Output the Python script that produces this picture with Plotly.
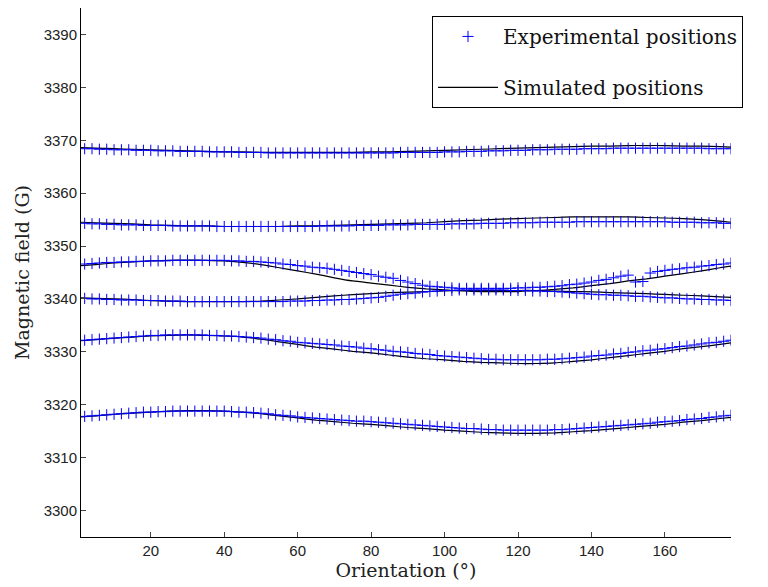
import plotly.graph_objects as go

# Experimental orientations (degrees)
x_exp = list(range(2, 179, 2))
# Simulated orientations (degrees)
x_sim = [1, 5, 10, 15, 20, 25, 30, 35, 40, 45, 50, 55, 60, 65, 70, 75, 80, 85, 90,
         95, 100, 105, 110, 115, 120, 125, 130, 135, 140, 145, 150, 155, 160, 165,
         170, 175, 178]

exp_a = [3368.4, 3368.4, 3368.3, 3368.3, 3368.2, 3368.2, 3368.2, 3368.1, 3368.1, 3368.1,
         3368.0, 3368.0, 3368.0, 3367.9, 3367.9, 3367.9, 3367.9, 3367.8, 3367.8, 3367.8,
         3367.8, 3367.7, 3367.7, 3367.7, 3367.7, 3367.6, 3367.6, 3367.6, 3367.6, 3367.6,
         3367.6, 3367.6, 3367.6, 3367.6, 3367.6, 3367.6, 3367.6, 3367.6, 3367.6, 3367.6,
         3367.6, 3367.6, 3367.6, 3367.7, 3367.7, 3367.7, 3367.7, 3367.7, 3367.7, 3367.8,
         3367.8, 3367.8, 3367.9, 3367.9, 3367.9, 3368.0, 3368.0, 3368.0, 3368.1, 3368.1,
         3368.1, 3368.2, 3368.2, 3368.2, 3368.3, 3368.3, 3368.3, 3368.3, 3368.4, 3368.4,
         3368.4, 3368.4, 3368.5, 3368.5, 3368.5, 3368.5, 3368.5, 3368.5, 3368.5, 3368.5,
         3368.5, 3368.5, 3368.5, 3368.5, 3368.5, 3368.4, 3368.4, 3368.4, 3368.4]
exp_b = [3354.3, 3354.2, 3354.2, 3354.1, 3354.1, 3354.0, 3354.0, 3354.0, 3353.9, 3353.9,
         3353.9, 3353.9, 3353.8, 3353.8, 3353.8, 3353.8, 3353.8, 3353.8, 3353.7, 3353.7,
         3353.7, 3353.7, 3353.7, 3353.7, 3353.7, 3353.7, 3353.7, 3353.7, 3353.7, 3353.7,
         3353.7, 3353.7, 3353.8, 3353.8, 3353.8, 3353.8, 3353.8, 3353.9, 3353.9, 3353.9,
         3353.9, 3354.0, 3354.0, 3354.0, 3354.0, 3354.1, 3354.1, 3354.1, 3354.1, 3354.1,
         3354.2, 3354.2, 3354.2, 3354.2, 3354.3, 3354.3, 3354.3, 3354.3, 3354.4, 3354.4,
         3354.4, 3354.4, 3354.5, 3354.5, 3354.5, 3354.5, 3354.5, 3354.6, 3354.6, 3354.6,
         3354.6, 3354.6, 3354.6, 3354.6, 3354.6, 3354.6, 3354.6, 3354.6, 3354.6, 3354.6,
         3354.5, 3354.5, 3354.5, 3354.5, 3354.4, 3354.4, 3354.4, 3354.3, 3354.3]
exp_c = [3346.6, 3346.7, 3346.8, 3346.9, 3346.9, 3347.0, 3347.0, 3347.1, 3347.1, 3347.2,
         3347.2, 3347.2, 3347.3, 3347.3, 3347.3, 3347.3, 3347.3, 3347.3, 3347.3, 3347.3,
         3347.2, 3347.2, 3347.1, 3347.1, 3347.0, 3346.9, 3346.8, 3346.6, 3346.5, 3346.3,
         3346.2, 3346.0, 3345.9, 3345.8, 3345.6, 3345.4, 3345.2, 3345.0, 3344.8, 3344.6,
         3344.3, 3344.1, 3343.9, 3343.5, 3343.2, 3342.9, 3342.6, 3342.4, 3342.3, 3342.2,
         3342.1, 3342.0, 3342.0, 3342.0, 3342.0, 3342.0, 3342.0, 3342.0, 3342.0, 3342.1,
         3342.1, 3342.2, 3342.2, 3342.3, 3342.4, 3342.5, 3342.7, 3342.8, 3343.0, 3343.2,
         3343.5, 3343.7, 3344.0, 3344.3, 3344.5, 3343.2, 3343.3, 3344.9, 3345.2, 3345.4,
         3345.6, 3345.7, 3345.9, 3346.0, 3346.2, 3346.3, 3346.5, 3346.6, 3346.8]
exp_d = [3340.1, 3340.0, 3340.0, 3339.9, 3339.9, 3339.8, 3339.8, 3339.8, 3339.7, 3339.7,
         3339.7, 3339.6, 3339.6, 3339.6, 3339.5, 3339.5, 3339.5, 3339.5, 3339.5, 3339.5,
         3339.5, 3339.5, 3339.5, 3339.5, 3339.5, 3339.5, 3339.5, 3339.5, 3339.6, 3339.6,
         3339.6, 3339.7, 3339.7, 3339.8, 3339.8, 3339.9, 3339.9, 3340.0, 3340.1, 3340.2,
         3340.3, 3340.5, 3340.7, 3340.9, 3341.0, 3341.1, 3341.3, 3341.4, 3341.5, 3341.6,
         3341.6, 3341.7, 3341.7, 3341.7, 3341.7, 3341.7, 3341.7, 3341.7, 3341.6, 3341.6,
         3341.6, 3341.5, 3341.5, 3341.4, 3341.4, 3341.3, 3341.2, 3341.1, 3341.0, 3340.9,
         3340.8, 3340.8, 3340.7, 3340.7, 3340.6, 3340.5, 3340.5, 3340.4, 3340.3, 3340.2,
         3340.2, 3340.1, 3340.0, 3340.0, 3339.9, 3339.9, 3339.8, 3339.8, 3339.7]
exp_e = [3332.2, 3332.3, 3332.4, 3332.5, 3332.6, 3332.7, 3332.8, 3332.9, 3333.0, 3333.1,
         3333.1, 3333.2, 3333.2, 3333.2, 3333.2, 3333.2, 3333.2, 3333.1, 3333.1, 3333.0,
         3333.0, 3332.9, 3332.8, 3332.7, 3332.6, 3332.4, 3332.3, 3332.1, 3332.0, 3331.8,
         3331.7, 3331.6, 3331.5, 3331.4, 3331.3, 3331.1, 3331.0, 3330.9, 3330.7, 3330.6,
         3330.4, 3330.3, 3330.1, 3330.0, 3329.9, 3329.7, 3329.6, 3329.5, 3329.3, 3329.2,
         3329.1, 3329.0, 3328.9, 3328.8, 3328.7, 3328.6, 3328.6, 3328.5, 3328.5, 3328.5,
         3328.5, 3328.5, 3328.5, 3328.6, 3328.6, 3328.7, 3328.8, 3328.9, 3329.0, 3329.2,
         3329.3, 3329.4, 3329.6, 3329.7, 3329.9, 3330.0, 3330.2, 3330.3, 3330.5, 3330.6,
         3330.8, 3331.0, 3331.1, 3331.3, 3331.5, 3331.7, 3331.8, 3332.0, 3332.2]
exp_f = [3317.8, 3317.9, 3318.0, 3318.1, 3318.2, 3318.3, 3318.4, 3318.5, 3318.6, 3318.6,
         3318.7, 3318.7, 3318.8, 3318.8, 3318.8, 3318.8, 3318.8, 3318.8, 3318.8, 3318.8,
         3318.7, 3318.6, 3318.6, 3318.5, 3318.4, 3318.3, 3318.1, 3318.0, 3317.9, 3317.7,
         3317.6, 3317.5, 3317.4, 3317.3, 3317.2, 3317.1, 3317.0, 3316.9, 3316.9, 3316.8,
         3316.7, 3316.6, 3316.5, 3316.4, 3316.3, 3316.2, 3316.1, 3316.0, 3315.9, 3315.8,
         3315.7, 3315.6, 3315.5, 3315.5, 3315.4, 3315.3, 3315.3, 3315.2, 3315.2, 3315.2,
         3315.2, 3315.2, 3315.2, 3315.2, 3315.3, 3315.3, 3315.4, 3315.5, 3315.6, 3315.7,
         3315.8, 3315.9, 3316.0, 3316.1, 3316.2, 3316.3, 3316.4, 3316.5, 3316.7, 3316.8,
         3316.9, 3317.0, 3317.2, 3317.3, 3317.4, 3317.6, 3317.7, 3317.9, 3318.0]

sim_a = [3368.6, 3368.5, 3368.4, 3368.3, 3368.2, 3368.1, 3368.0, 3367.9, 3367.8, 3367.8,
         3367.7, 3367.7, 3367.7, 3367.7, 3367.7, 3367.7, 3367.8, 3367.8, 3367.9, 3368.0,
         3368.1, 3368.2, 3368.3, 3368.4, 3368.5, 3368.6, 3368.7, 3368.8, 3368.9, 3368.9,
         3369.0, 3369.0, 3369.0, 3368.9, 3368.9, 3368.8, 3368.7]
sim_b = [3354.5, 3354.4, 3354.3, 3354.2, 3354.0, 3353.9, 3353.8, 3353.8, 3353.7, 3353.7,
         3353.7, 3353.7, 3353.8, 3353.8, 3353.9, 3354.0, 3354.1, 3354.2, 3354.3, 3354.4,
         3354.6, 3354.8, 3354.9, 3355.1, 3355.2, 3355.3, 3355.4, 3355.5, 3355.5, 3355.5,
         3355.5, 3355.4, 3355.3, 3355.2, 3355.0, 3354.7, 3354.5]
sim_c = [3346.3, 3346.5, 3346.8, 3347.0, 3347.2, 3347.3, 3347.35, 3347.3, 3347.2, 3346.9,
         3346.5, 3345.9, 3345.3, 3344.7, 3344.0, 3343.4, 3343.0, 3342.6, 3342.2, 3341.9,
         3341.7, 3341.5, 3341.4, 3341.4, 3341.4, 3341.6, 3341.8, 3342.1, 3342.5, 3342.9,
         3343.4, 3343.8, 3344.3, 3344.8, 3345.3, 3345.9, 3346.2]
sim_d = [3340.2, 3340.1, 3340.0, 3339.9, 3339.7, 3339.6, 3339.5, 3339.5, 3339.5, 3339.5,
         3339.6, 3339.8, 3340.0, 3340.3, 3340.6, 3340.8, 3341.0, 3341.2, 3341.3, 3341.4,
         3341.5, 3341.6, 3341.6, 3341.6, 3341.6, 3341.6, 3341.5, 3341.4, 3341.35, 3341.2,
         3341.1, 3341.0, 3340.85, 3340.7, 3340.6, 3340.4, 3340.3]
sim_e = [3332.1, 3332.3, 3332.6, 3332.8, 3333.0, 3333.1, 3333.2, 3333.1, 3333.0, 3332.8,
         3332.4, 3331.9, 3331.4, 3330.9, 3330.5, 3330.1, 3329.8, 3329.4, 3329.0, 3328.7,
         3328.5, 3328.2, 3328.0, 3327.9, 3327.8, 3327.8, 3327.9, 3328.2, 3328.5, 3328.9,
         3329.3, 3329.7, 3330.1, 3330.6, 3331.0, 3331.4, 3331.7]
sim_f = [3317.7, 3317.9, 3318.2, 3318.4, 3318.6, 3318.8, 3318.9, 3318.9, 3318.8, 3318.6,
         3318.3, 3317.9, 3317.5, 3317.1, 3316.8, 3316.5, 3316.3, 3316.0, 3315.7, 3315.5,
         3315.2, 3315.0, 3314.8, 3314.7, 3314.6, 3314.6, 3314.7, 3314.9, 3315.1, 3315.4,
         3315.7, 3316.0, 3316.3, 3316.7, 3317.0, 3317.4, 3317.6]

x_ticks = [20, 40, 60, 80, 100, 120, 140, 160]
y_ticks = [3300, 3310, 3320, 3330, 3340, 3350, 3360, 3370, 3380, 3390]

exp_series = [exp_a, exp_b, exp_c, exp_d, exp_e, exp_f]
sim_series = [sim_a, sim_b, sim_c, sim_d, sim_e, sim_f]

sx, sy = [], []
for s in sim_series:
    sx += x_sim + [None]
    sy += s + [None]
ex, ey = [], []
for s in exp_series:
    ex += x_exp
    ey += s

fig = go.Figure()
fig.add_trace(go.Scatter(
    x=sx, y=sy, mode="lines", name="Simulated positions",
    line=dict(color="black", width=1.2, shape="spline", smoothing=0.6),
    legendrank=2, legendgroup="sim"))
fig.add_trace(go.Scatter(
    x=ex, y=ey, mode="markers", name="Experimental positions",
    marker=dict(symbol="cross-thin", size=8, color="#0000ff",
                line=dict(color="#0000ff", width=1)),
    legendrank=1, legendgroup="exp"))

tick_font = dict(family="Liberation Sans, Arial, sans-serif", size=15, color="#222")
title_font = dict(family="DejaVu Serif, serif", size=19, color="#222")

fig.update_layout(
    width=768, height=587,
    margin=dict(l=81, r=37, t=8, b=50),
    paper_bgcolor="white", plot_bgcolor="white",
    showlegend=True,
    legend=dict(x=0.54, y=0.985, xanchor="left", yanchor="top",
                bgcolor="white", bordercolor="black", borderwidth=1,
                font=dict(family="DejaVu Serif, serif", size=20, color="#111"),
                itemwidth=60,
                traceorder="grouped", tracegroupgap=22),
    xaxis=dict(range=[1, 178], tickvals=x_ticks, ticks="inside", ticklen=5,
               showline=True, linecolor="black", linewidth=1, showgrid=False,
               zeroline=False, tickfont=tick_font, mirror=False,
               title=dict(text="Orientation (°)", font=title_font, standoff=3)),
    yaxis=dict(range=[3295, 3395], tickvals=y_ticks, ticks="inside", ticklen=5,
               showline=True, linecolor="black", linewidth=1, showgrid=False,
               zeroline=False, tickfont=tick_font, mirror=False,
               title=dict(text="Magnetic field (G)", font=title_font, standoff=8)),
)

fig.write_html("out.html")
